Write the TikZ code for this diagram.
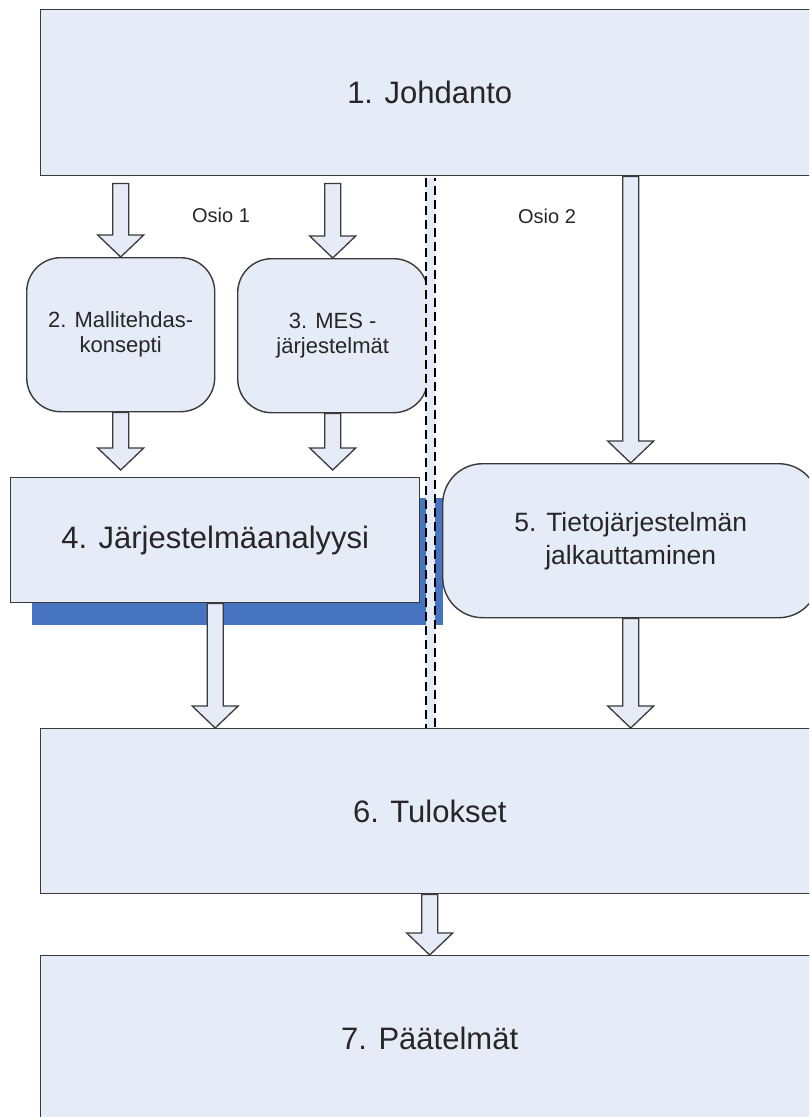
\documentclass[tikz,border=0pt]{standalone}
\usepackage{fontspec}
\setmainfont{Liberation Sans}
\usetikzlibrary{calc}
\definecolor{boxfill}{HTML}{E5ECF7}
\definecolor{boxline}{HTML}{3A3A3A}
\definecolor{shadowblue}{HTML}{4674C0}
\definecolor{labeltext}{HTML}{262626}

% block arrow pointing down from #1 to #2 (tip at #2)
\newcommand{\blockarrow}[2]{%
  \draw[arrowbody] let \p1=#1, \p2=#2 in
    (\x1-8pt,\y1) -- (\x1-8pt,\y2+22pt) -- (\x1-23pt,\y2+22pt) -- (\x1,\y2)
    -- (\x1+23pt,\y2+22pt) -- (\x1+8pt,\y2+22pt) -- (\x1+8pt,\y1) -- cycle;}

\begin{document}
\begin{tikzpicture}[x=1pt,y=-1pt,
  box/.style={draw=boxline, fill=boxfill, line width=1.4pt, text=labeltext,
    inner sep=0pt, anchor=north west, align=center},
  bigbox/.style={box, font=\fontsize{31}{36}\selectfont},
  smallbox/.style={box, rounded corners=34pt, font=\fontsize{22}{25}\selectfont},
  midbox/.style={box, rounded corners=40pt, font=\fontsize{26.5}{33}\selectfont},
  arrowbody/.style={draw=boxline, fill=boxfill, line width=1.3pt, line join=miter},
  section/.style={text=labeltext, font=\fontsize{20}{24}\selectfont, inner sep=0pt},
  divider/.style={draw=black, line width=1.3pt, dash pattern=on 9pt off 5pt}
]
\useasboundingbox (0,0) rectangle (809,1117);
\clip (0,0) rectangle (809,1117);

% main chapters
\node[bigbox, minimum width=778pt, minimum height=166pt] (b1) at (40,9) {1. Johdanto};
\node[smallbox, minimum width=188pt, minimum height=154pt] (b2) at (26,257) {2. Mallitehdas-\\konsepti};
\node[smallbox, minimum width=190pt, minimum height=154pt] (b3) at (237,258) {3. MES -\\järjestelmät};

% shadow behind chapter 4
\fill[shadowblue] (32,498) rectangle (443,625);
\node[bigbox, minimum width=409pt, minimum height=125pt] (b4) at (10,477) {4. Järjestelmäanalyysi};

\node[midbox, minimum width=376pt, minimum height=154pt] (b5) at (442,463) {5. Tietojärjestelmän\\jalkauttaminen};
\node[bigbox, minimum width=778pt, minimum height=165pt] (b6) at (40,728) {6. Tulokset};
\node[bigbox, minimum width=778pt, minimum height=165pt] (b7) at (40,955) {7. Päätelmät};

% section divider
\fill[boxfill] (426,178) rectangle (435,728);
\draw[divider] (426,178) -- (426,728);
\draw[divider, dash phase=6pt] (435,178) -- (435,728);

% section labels
\node[section] (osio1) at (221,215) {Osio 1};
\node[section] (osio2) at (547,216) {Osio 2};

% flow arrows
\blockarrow{($(b1.south -| b2.north)+(0,7)$)}{(b2.north)}
\blockarrow{($(b1.south -| b3.north)+(0,7)$)}{(b3.north)}
\blockarrow{(b1.south -| b5.north)}{(b5.north)}
\blockarrow{(b2.south)}{($(b2.south |- b4.north)+(0,-7)$)}
\blockarrow{(b3.south)}{($(b3.south |- b4.north)+(0,-7)$)}
\blockarrow{(b4.south)}{(b4.south |- b6.north)}
\blockarrow{(b5.south)}{(b5.south |- b6.north)}
\blockarrow{(b6.south)}{(b7.north)}
\end{tikzpicture}
\end{document}
